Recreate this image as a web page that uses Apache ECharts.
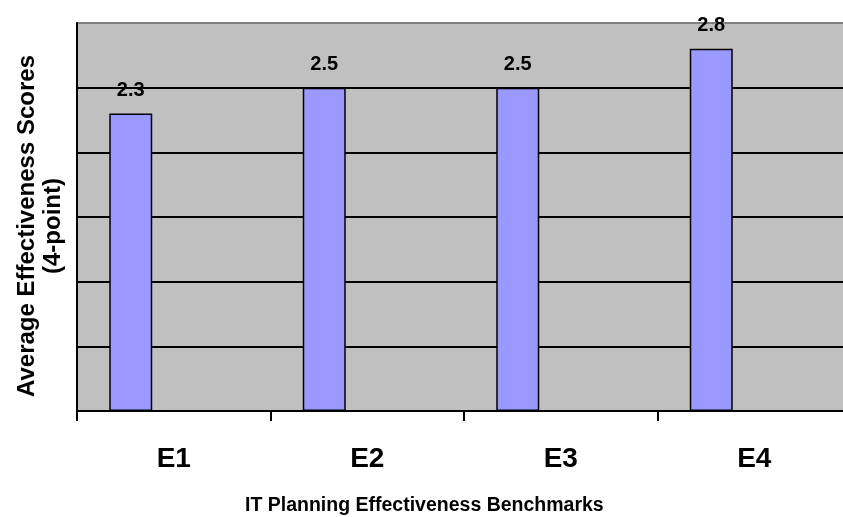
<!DOCTYPE html>
<html>
<head>
<meta charset="utf-8">
<script src="https://cdn.jsdelivr.net/npm/echarts@6/dist/echarts.min.js"></script>
<style>html,body{margin:0;padding:0;background:#fff;overflow:hidden;width:843px;height:517px}#c{width:851px;height:517px}</style>
</head>
<body>
<div id="c"></div>
<script>
var categories = ['E1', 'E2', 'E3', 'E4'];
var scores = [2.3, 2.5, 2.5, 2.8];
var emptySeriesA = [null, null, null, null];
var emptySeriesB = [null, null, null, null];
var yTitle = 'Average Effectiveness Scores\n(4-point)';
var xTitle = 'IT Planning Effectiveness Benchmarks';

var FONT = 'Liberation Sans, Arial, sans-serif';
var chart = echarts.init(document.getElementById('c'), null, {renderer: 'canvas'});
chart.setOption({
  animation: false,
  backgroundColor: '#ffffff',
  title: {
    text: xTitle,
    left: 245,
    top: 495,
    padding: 0,
    textStyle: {fontFamily: FONT, fontWeight: 'bold', fontSize: 19.5, color: '#000', lineHeight: 22}
  },
  graphic: [{
    type: 'text',
    x: 40, y: 226,
    rotation: Math.PI / 2,
    style: {
      text: yTitle,
      fontFamily: FONT, fontWeight: 'bold', fontSize: 24, lineHeight: 26,
      fill: '#000', textAlign: 'center', textVerticalAlign: 'middle'
    }
  }],
  grid: {
    left: 77, right: 0, top: 23, bottom: 106,
    show: true, backgroundColor: '#C0C0C0', borderColor: '#808080', borderWidth: 2
  },
  xAxis: {
    type: 'category',
    data: categories,
    axisLine: {lineStyle: {color: '#000', width: 2}},
    axisTick: {show: true, length: 10, lineStyle: {color: '#000', width: 2}},
    axisLabel: {fontFamily: FONT, fontWeight: 'bold', fontSize: 28, color: '#000', margin: 34}
  },
  yAxis: {
    type: 'value', min: 0, max: 3, interval: 0.5,
    axisLine: {show: true, lineStyle: {color: '#000', width: 2}},
    axisTick: {show: false},
    axisLabel: {show: false},
    splitLine: {show: true, showMaxLine: false, lineStyle: {color: '#000', width: 2}}
  },
  series: [
    {
      type: 'bar', data: scores, barWidth: 43, barGap: '0%',
      itemStyle: {color: '#9999FF', borderColor: '#000', borderWidth: 1.5},
      label: {show: true, position: 'top', distance: 13, fontFamily: FONT, fontWeight: 'bold', fontSize: 20, color: '#000'}
    },
    {type: 'bar', data: emptySeriesA, barWidth: 43, barGap: '0%'},
    {type: 'bar', data: emptySeriesB, barWidth: 43, barGap: '0%'}
  ]
});
</script>
</body>
</html>
